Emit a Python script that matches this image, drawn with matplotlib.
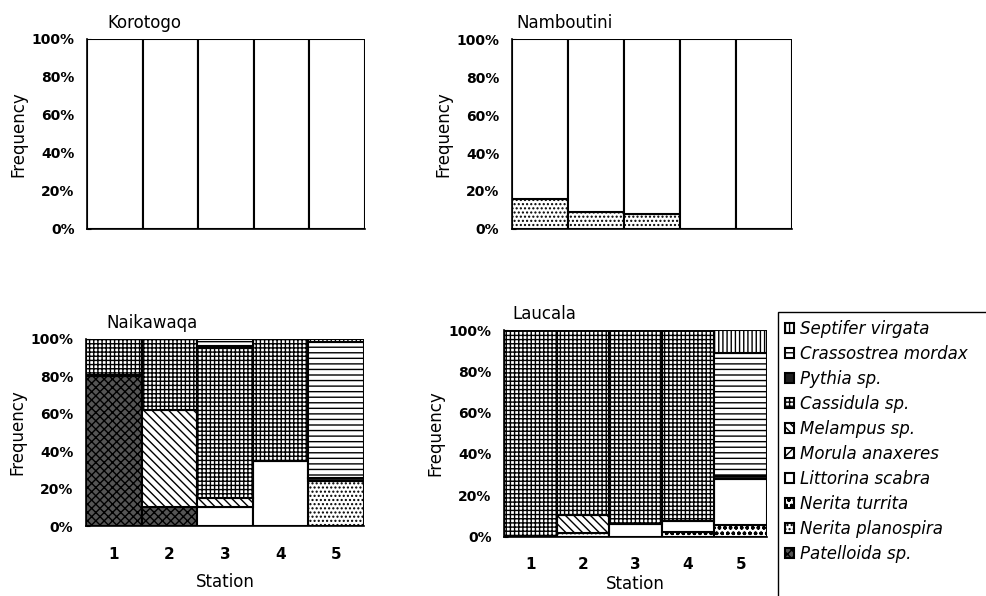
import numpy as np
import matplotlib
matplotlib.use("Agg")
import matplotlib.pyplot as plt
from matplotlib.patches import Patch, Rectangle
from matplotlib.ticker import PercentFormatter
from matplotlib.transforms import offset_copy

plt.rcParams['font.family'] = ['DejaVu Sans']
plt.rcParams['hatch.linewidth'] = 1.0

# species in legend order (top of the stack first)
species = ['Septifer virgata', 'Crassostrea mordax', 'Pythia sp.', 'Cassidula sp.',
           'Melampus sp.', 'Morula anaxeres', 'Littorina scabra', 'Nerita turrita',
           'Nerita planospira', 'Patelloida sp.']
stations = [1, 2, 3, 4, 5]

# frequency (%) per station, only the species that occur at each site
korotogo = {
    'Littorina scabra': [100, 100, 100, 100, 100],
}
namboutini = {
    'Nerita planospira': [16, 9, 8, 0, 0],
    'Littorina scabra': [84, 91, 92, 100, 100],
}
naikawaqa = {
    'Patelloida sp.': [80, 10, 0, 0, 0],
    'Nerita planospira': [0, 0, 0, 0, 24],
    'Littorina scabra': [1, 0, 10, 35, 0],
    'Melampus sp.': [0, 52, 5, 0, 0],
    'Cassidula sp.': [19, 38, 80, 65, 0],
    'Pythia sp.': [0, 0, 1.5, 0, 1.5],
    'Crassostrea mordax': [0, 0, 3.5, 0, 73],
    'Septifer virgata': [0, 0, 0, 0, 1.5],
}
laucala = {
    'Nerita planospira': [0, 1.5, 0, 0, 0],
    'Nerita turrita': [0, 0, 0, 2.3, 5.6],
    'Littorina scabra': [0, 0, 6, 5, 22.4],
    'Melampus sp.': [0, 9, 0, 0, 0],
    'Cassidula sp.': [100, 89.5, 94, 92.7, 0],
    'Pythia sp.': [0, 0, 0, 0, 1.5],
    'Crassostrea mordax': [0, 0, 0, 0, 59.5],
    'Septifer virgata': [0, 0, 0, 0, 11],
}

styles = {
    'Septifer virgata': dict(facecolor='white', hatch='||||'),
    'Crassostrea mordax': dict(facecolor='white', hatch='---'),
    'Pythia sp.': dict(facecolor='#1e1e1e', hatch=None),
    'Cassidula sp.': dict(facecolor='white', hatch='++++'),
    'Melampus sp.': dict(facecolor='white', hatch='\\\\\\\\'),
    'Morula anaxeres': dict(facecolor='white', hatch='////'),
    'Littorina scabra': dict(facecolor='white', hatch=None),
    'Nerita turrita': dict(facecolor='white', hatch='ooo'),
    'Nerita planospira': dict(facecolor='white', hatch='....'),
    'Patelloida sp.': dict(facecolor='#555555', hatch='xxxx'),
}

W, H = 986, 596
fig = plt.figure(figsize=(W / 100, H / 100), dpi=100)


def px_axes(left, top, right, bottom):
    return fig.add_axes([left / W, 1 - bottom / H, (right - left) / W, (bottom - top) / H])


def stacked(ax, title, data, show_x, title_dx=20, xlabelpad=8):
    x = np.array(stations)
    base = np.zeros(len(stations))
    for name in species[::-1]:
        if name not in data:
            continue
        vals = np.array(data[name], dtype=float)
        keep = vals > 0
        ax.bar(x[keep], vals[keep], width=1.0, bottom=base[keep],
               edgecolor='black', linewidth=1.5, zorder=2, **styles[name])
        base += vals
    ax.set_xlim(0.5, 5.5)
    ax.set_ylim(0, 100)
    ax.set_yticks(range(0, 101, 20))
    ax.yaxis.set_major_formatter(PercentFormatter(100, decimals=0))
    ax.tick_params(axis='y', direction='in', length=3, pad=9, labelsize=10)
    for lab in ax.get_yticklabels():
        lab.set_fontweight('bold')
    ax.set_ylabel('Frequency', fontsize=12, labelpad=3)
    for side in ['top', 'right']:
        ax.spines[side].set_visible(False)
    ax.spines['left'].set_linewidth(1.2)
    ax.spines['bottom'].set_linewidth(1.2)
    if show_x:
        ax.set_xticks(stations)
        ax.tick_params(axis='x', length=0, pad=15, labelsize=11)
        for lab in ax.get_xticklabels():
            lab.set_fontweight('bold')
        ax.set_xlabel('Station', fontsize=12, labelpad=xlabelpad)
    else:
        ax.set_xticks([])
    tr = offset_copy(ax.transAxes, fig=fig, x=title_dx, y=16, units='dots')
    ax.text(0, 1, title, transform=tr, fontsize=12, ha='left', va='center')


ax1 = px_axes(87, 38.5, 365, 229)
stacked(ax1, 'Korotogo', korotogo, False)
ax2 = px_axes(512, 39, 792, 229)
stacked(ax2, 'Namboutini', namboutini, False, title_dx=4)
ax3 = px_axes(86, 339, 364, 526)
stacked(ax3, 'Naikawaqa', naikawaqa, True)
ax4 = px_axes(504, 330, 767, 536.5)
stacked(ax4, 'Laucala', laucala, True, title_dx=8, xlabelpad=2)

# legend box, running off the right and bottom edges
box = Rectangle((778 / W, -0.1), 0.3, 1.1 - 312 / H, transform=fig.transFigure,
                facecolor='white', edgecolor='black', linewidth=1.0, zorder=5,
                clip_on=False)
fig.add_artist(box)

handles = [Patch(edgecolor='black', linewidth=1.5, **styles[s]) for s in species]
leg = fig.legend(handles, species, loc='upper left',
                 bbox_to_anchor=(785 / W, 1 - 320 / H), frameon=False,
                 prop={'style': 'italic', 'size': 12},
                 handlelength=0.55, handleheight=0.55, handletextpad=0.35,
                 labelspacing=0.42, borderpad=0.0, borderaxespad=0.0)
leg.set_zorder(6)

fig.savefig('out.png', dpi=100)
